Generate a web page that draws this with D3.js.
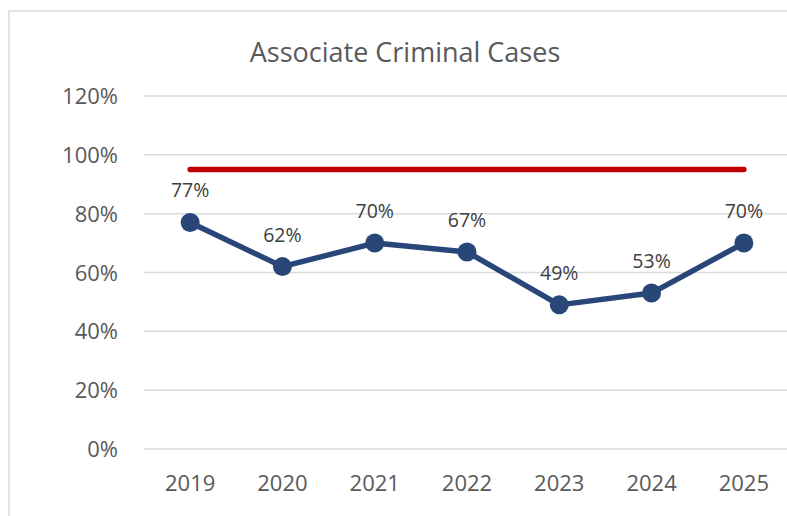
<!DOCTYPE html>
<html>
<head>
<meta charset="utf-8">
<script src="https://cdn.jsdelivr.net/npm/d3@7"></script>
<style>
  html, body { margin: 0; padding: 0; background: #fff; }
  svg { display: block; }
  text { font-family: "Open Sans", sans-serif; }
</style>
</head>
<body>
<svg id="chart" width="787" height="516"></svg>
<script>
const title = "Associate Criminal Cases";
const years = ["2019", "2020", "2021", "2022", "2023", "2024", "2025"];
const rates = [0.77, 0.62, 0.70, 0.67, 0.49, 0.53, 0.70];
const target = 0.95;
const yTicks = [0, 0.2, 0.4, 0.6, 0.8, 1.0, 1.2];

const svg = d3.select("#chart");

// chart border (extends past the window on right and bottom)
svg.append("rect")
  .attr("x", 9).attr("y", 11).attr("width", 800).attr("height", 520)
  .attr("fill", "#fff").attr("stroke", "#d9d9d9").attr("stroke-width", 1.5);

const x = d3.scalePoint().domain(years).range([144, 790]).padding(0.5);
const y = d3.scaleLinear().domain([0, 1.2]).range([449, 96]);

// gridlines
svg.append("g").selectAll("line").data(yTicks).join("line")
  .attr("x1", 144).attr("x2", 790)
  .attr("y1", d => y(d)).attr("y2", d => y(d))
  .attr("stroke", "#d9d9d9").attr("stroke-width", 1.5);

// y axis labels
const fmt = d3.format(".0%");
svg.append("g").selectAll("text").data(yTicks).join("text")
  .attr("x", 118).attr("y", d => y(d) + 8)
  .attr("text-anchor", "end")
  .attr("font-size", 22).attr("fill", "#595959")
  .text(d => fmt(d));

// x axis labels
svg.append("g").selectAll("text").data(years).join("text")
  .attr("x", d => x(d)).attr("y", 491)
  .attr("text-anchor", "middle")
  .attr("font-size", 22).attr("fill", "#595959")
  .text(d => d);

// title
svg.append("text")
  .attr("x", 405).attr("y", 62)
  .attr("text-anchor", "middle")
  .attr("font-size", 27).attr("fill", "#595959")
  .text(title);

// target line
svg.append("line")
  .attr("x1", x(years[0])).attr("x2", x(years[years.length - 1]))
  .attr("y1", y(target)).attr("y2", y(target))
  .attr("stroke", "#C00000").attr("stroke-width", 5.5)
  .attr("stroke-linecap", "round");

// series line
const data = years.map((yr, i) => ({ yr, v: rates[i] }));
svg.append("path")
  .datum(data)
  .attr("fill", "none")
  .attr("stroke", "#284677").attr("stroke-width", 5.5)
  .attr("stroke-linejoin", "round")
  .attr("d", d3.line().x(d => x(d.yr)).y(d => y(d.v)));

svg.append("g").selectAll("circle").data(data).join("circle")
  .attr("cx", d => x(d.yr)).attr("cy", d => y(d.v)).attr("r", 9.5)
  .attr("fill", "#284677");

// data labels
svg.append("g").selectAll("text").data(data).join("text")
  .attr("x", d => x(d.yr)).attr("y", d => y(d.v) - 25)
  .attr("text-anchor", "middle")
  .attr("font-size", 19.5).attr("fill", "#404040")
  .text(d => fmt(d.v));
</script>
</body>
</html>
